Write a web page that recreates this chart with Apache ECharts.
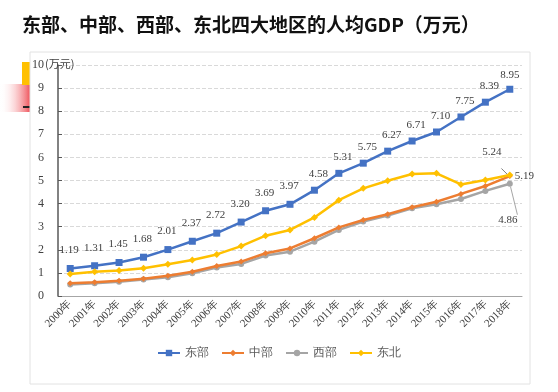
<!DOCTYPE html>
<html><head><meta charset="utf-8">
<script src="https://cdn.jsdelivr.net/npm/echarts@6/dist/echarts.min.js"></script>
<style>html,body{margin:0;padding:0;background:#fff}#c{width:558px;height:392px}</style>
</head><body><div id="c"></div>
<script>
const years = ['2000年','2001年','2002年','2003年','2004年','2005年','2006年','2007年','2008年','2009年','2010年','2011年','2012年','2013年','2014年','2015年','2016年','2017年','2018年'];
const east = [1.19,1.31,1.45,1.68,2.01,2.37,2.72,3.20,3.69,3.97,4.58,5.31,5.75,6.27,6.71,7.10,7.75,8.39,8.95];
const central = [0.55,0.59,0.66,0.75,0.88,1.05,1.30,1.49,1.85,2.06,2.50,2.97,3.29,3.54,3.84,4.08,4.42,4.76,5.19];
const west = [0.50,0.55,0.62,0.71,0.81,0.98,1.23,1.39,1.75,1.92,2.35,2.86,3.22,3.48,3.80,3.97,4.20,4.55,4.86];
const northeast = [0.95,1.05,1.10,1.20,1.37,1.56,1.80,2.16,2.61,2.86,3.40,4.15,4.66,4.99,5.28,5.31,4.83,5.02,5.24];
const seriesNames = ['东部','中部','西部','东北'];
const colors = ['#4472C4','#ED7D31','#A5A5A5','#FFC000'];
const yTicks = [0,1,2,3,4,5,6,7,8,9,10];

const serif = '"Liberation Serif","DejaVu Serif",serif';
const chart = echarts.init(document.getElementById('c'), null, {renderer:'canvas'});

function lastOnly(arr, labelCfg){
  return arr.map((v,i)=> i===arr.length-1 ? {value:v, label:labelCfg.label, labelLine:labelCfg.labelLine} : v);
}
const lastLabelStyle = {show:true, color:'#404040', fontFamily:serif, fontSize:11, formatter:p=>p.value.toFixed(2)};

const eastData = east.map((v,i)=> i===east.length-1 ? {value:v, label:{position:'top', distance:5}} : {value:v, label:{position:'top', distance: i>=10 ? 7 : 9, offset:[i>=10?4:-1,0]}});

const option = {
  animation:false,
  title:{text:'东部、中部、西部、东北四大地区的人均GDP（万元）', left:17, top:10,
    textStyle:{fontSize:19, fontWeight:'bold', color:'#111', fontFamily:'"Noto Sans CJK SC",sans-serif'}},
  graphic:[
    {type:'rect', z:-10, shape:{x:0,y:84,width:32,height:28}, style:{fill:new echarts.graphic.LinearGradient(1,0,0,0,[{offset:0,color:'rgba(235,40,50,0.9)'},{offset:1,color:'rgba(255,255,255,0)'}])}},
    {type:'rect', z:-5, shape:{x:22,y:62,width:11,height:23}, style:{fill:'#FFC000'}},
    {type:'rect', z:-5, shape:{x:23,y:106,width:8,height:2}, style:{fill:'#222'}},
    {type:'rect', z:-1, shape:{x:30,y:52,width:500,height:332}, style:{fill:'#fff', stroke:'#e2e2e2', lineWidth:1}},
    {type:'text', z:10, left:45, top:58, style:{text:'(万元)', fill:'#404040', font:'11px "Noto Sans CJK SC", sans-serif'}}
  ],
  grid:{left:58, right:36, top:65, bottom:96},
  legend:{bottom:28, left:'center', itemWidth:22, itemHeight:8, itemGap:12,
    data:seriesNames, textStyle:{color:'#595959', fontFamily:serif, fontSize:12}},
  xAxis:{type:'category', data:years, boundaryGap:true,
    axisLine:{lineStyle:{color:'#a6a6a6'}}, axisTick:{show:false},
    axisLabel:{rotate:45, interval:0, color:'#404040', fontFamily:serif, fontSize:11, margin:6}},
  yAxis:{type:'value', min:yTicks[0], max:yTicks[yTicks.length-1], interval:1,
    axisLine:{show:true, lineStyle:{color:'#595959', width:1.5}},
    axisTick:{show:true, inside:true, length:4, lineStyle:{color:'#595959'}},
    axisLabel:{color:'#404040', fontFamily:serif, fontSize:12, margin:14},
    splitLine:{lineStyle:{type:'dashed', color:'#d9d9d9'}}},
  series:[
    {name:seriesNames[0], type:'line', data:eastData, symbol:'rect', symbolSize:7,
      lineStyle:{width:2.5, color:colors[0]}, itemStyle:{color:colors[0]},
      label:{show:true, color:'#404040', fontFamily:serif, fontSize:11, formatter:p=>p.value.toFixed(2)}},
    {name:seriesNames[1], type:'line', data:lastOnly(central,{label:Object.assign({},lastLabelStyle,{position:'right', distance:2, offset:[0,0]})}),
      symbol:'diamond', symbolSize:6, z:3,
      lineStyle:{width:2.5, color:colors[1]}, itemStyle:{color:colors[1]}},
    {name:seriesNames[2], type:'line', data:lastOnly(west,{label:Object.assign({},lastLabelStyle,{position:'bottom', distance:28, offset:[-2,0]}), labelLine:{show:true}}),
      symbol:'circle', symbolSize:6, z:2,
      lineStyle:{width:2.5, color:colors[2]}, itemStyle:{color:colors[2]},
      labelLine:{show:true, lineStyle:{color:'#a6a6a6', width:1}}},
    {name:seriesNames[3], type:'line', data:lastOnly(northeast,{label:Object.assign({},lastLabelStyle,{position:'top', distance:14, offset:[-18,0]}), labelLine:{show:true}}),
      symbol:'diamond', symbolSize:7, z:4,
      lineStyle:{width:2.5, color:colors[3]}, itemStyle:{color:colors[3]},
      labelLine:{show:true, lineStyle:{color:'#7f7f7f', width:1}}}
  ]
};
chart.setOption(option);
</script></body></html>
